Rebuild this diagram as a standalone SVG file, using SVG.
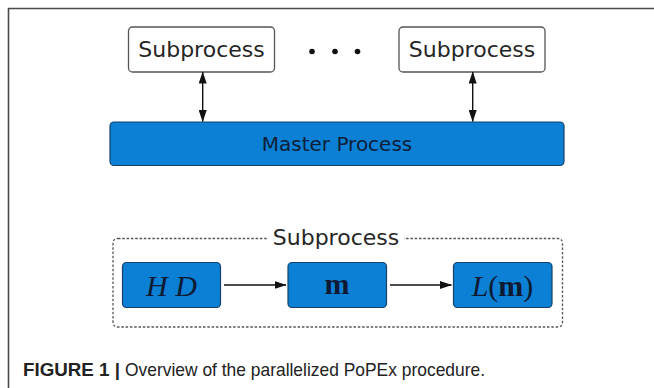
<svg xmlns="http://www.w3.org/2000/svg" width="654" height="388" viewBox="0 0 654 388">
  <style>
    .frame { fill: none; stroke: #4a4a4a; stroke-width: 1.6; }
    .sub { fill: #ffffff; stroke: #555555; stroke-width: 1.3; }
    .blue { fill: #0b80d4; stroke: #17416a; stroke-width: 1.2; }
    .lbl { font-family: "DejaVu Sans", sans-serif; fill: #262626; text-anchor: middle; }
    .math { font-family: "Liberation Serif", "DejaVu Serif", serif; fill: #0e1a33; text-anchor: middle; font-size: 30px; }
    .conn { stroke: #111111; stroke-width: 1.4; fill: none; }
    .dash { fill: none; stroke: #555555; stroke-width: 1.3; stroke-dasharray: 2.5 1.8; }
    .cap { font-family: "Liberation Sans", Arial, sans-serif; font-size: 19px; fill: #222222; }
  </style>
  <defs>
    <marker id="head" viewBox="0 0 12 8" refX="11.5" refY="4" markerWidth="12" markerHeight="8" markerUnits="userSpaceOnUse" orient="auto-start-reverse">
      <path d="M0,0 L12,4 L0,8 Z" fill="#111111"/>
    </marker>
  </defs>

  <rect width="654" height="388" fill="#ffffff"/>
  <!-- figure frame, open to the right and bottom -->
  <path class="frame" d="M654,8.5 H8.5 V388"/>

  <g id="subprocess-1">
    <rect class="sub" x="128.5" y="27" width="146" height="45" rx="4"/>
    <text class="lbl" x="201.5" y="57" font-size="22">Subprocess</text>
  </g>
  <g id="ellipsis">
    <circle cx="312" cy="51.5" r="2.8" fill="#111"/>
    <circle cx="335" cy="51.5" r="2.8" fill="#111"/>
    <circle cx="357.5" cy="51.5" r="2.8" fill="#111"/>
  </g>
  <g id="subprocess-n">
    <rect class="sub" x="399" y="27" width="146" height="45" rx="4"/>
    <text class="lbl" x="472" y="57" font-size="22">Subprocess</text>
  </g>
  <g id="master">
    <rect class="blue" x="110" y="122" width="454" height="43.5" rx="4"/>
    <text class="lbl" x="337" y="151" font-size="20" style="fill:#0d1f3a">Master Process</text>
  </g>

  <g id="pipeline">
    <path class="dash" d="M118,238.5 H557.5 Q562.5,238.5 562.5,243.5 V322 Q562.5,327 557.5,327 H118 Q113,327 113,322 V243.5 Q113,238.5 118,238.5 Z"/>
    <rect x="268" y="228" width="136" height="22" fill="#ffffff"/>
    <text class="lbl" x="336" y="244.5" font-size="22">Subprocess</text>
  </g>
  <g id="hd">
    <rect class="blue" x="122.5" y="262.5" width="98" height="45" rx="4"/>
    <text class="math" x="171.5" y="295.5" font-style="italic">H D</text>
  </g>
  <g id="m">
    <rect class="blue" x="288" y="262.5" width="98.5" height="45" rx="4"/>
    <text class="math" x="337" y="294" font-weight="bold">m</text>
  </g>
  <g id="likelihood">
    <rect class="blue" x="453.5" y="262.5" width="98.5" height="45" rx="4"/>
    <text class="math" x="502.5" y="295.5"><tspan font-style="italic">L</tspan>(<tspan font-weight="bold">m</tspan>)</text>
  </g>

  <g id="connectors">
    <line class="conn" x1="202.7" y1="72" x2="202.7" y2="121.5" marker-start="url(#head)" marker-end="url(#head)"/>
    <line class="conn" x1="472.7" y1="72" x2="472.7" y2="121.5" marker-start="url(#head)" marker-end="url(#head)"/>
    <line class="conn" x1="224" y1="285" x2="286" y2="285" marker-end="url(#head)"/>
    <line class="conn" x1="390" y1="285" x2="451.5" y2="285" marker-end="url(#head)"/>
  </g>

  <text class="cap" x="23" y="376"><tspan font-weight="bold" textLength="97" lengthAdjust="spacingAndGlyphs">FIGURE 1 |</tspan><tspan x="125" textLength="360" lengthAdjust="spacingAndGlyphs">Overview of the parallelized PoPEx procedure.</tspan></text>
</svg>
